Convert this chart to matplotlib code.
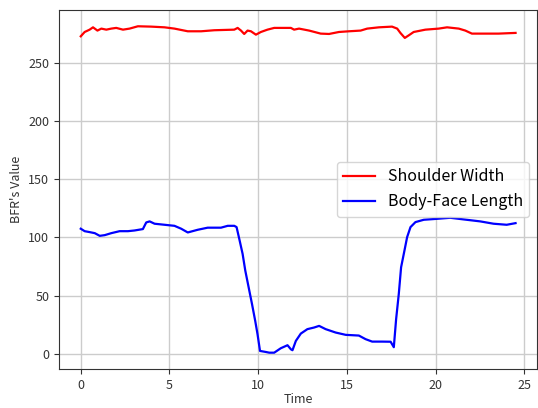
import matplotlib
matplotlib.use("Agg")
import matplotlib.pyplot as plt

plt.rcParams['font.family'] = ['Noto Sans CJK KR', 'DejaVu Sans']

# ---- Shoulder Width (red) ----
t_shoulder = [0.0, 0.22, 0.5, 0.69, 0.94, 1.16, 1.44, 1.72, 2.0, 2.38, 2.75, 3.22,
              3.97, 4.72, 5.28, 6.03, 6.78, 7.53, 8.65, 8.84, 9.03, 9.21, 9.4, 9.59,
              9.87, 10.15, 10.52, 10.9, 11.84, 12.02, 12.3, 12.87, 13.52, 13.99,
              14.55, 15.11, 15.77, 16.14, 16.8, 17.54, 17.83, 18.01, 18.26, 18.48,
              18.76, 19.42, 20.17, 20.64, 21.3, 21.67, 22.04, 22.79, 23.54, 24.5]
shoulder = [272.7, 276.4, 278.4, 280.4, 277.6, 279.3, 278.4, 279.3, 279.9, 278.4,
            279.3, 281.3, 281.0, 280.4, 279.3, 277.0, 277.0, 277.9, 278.4, 279.9,
            277.6, 274.7, 277.6, 277.0, 274.1, 276.4, 278.4, 279.9, 279.9, 278.4,
            279.3, 277.6, 275.0, 274.7, 276.4, 277.0, 277.6, 279.3, 280.4, 281.0,
            279.3, 275.6, 271.3, 273.5, 276.4, 278.4, 279.3, 280.4, 279.3, 277.6,
            275.0, 275.0, 275.0, 275.6]

# ---- Body-Face Length (blue) ----
t_body = [0.0, 0.22, 0.5, 0.79, 1.07, 1.35, 1.72, 2.19, 2.66, 3.03, 3.5, 3.69, 3.88,
          4.16, 4.72, 5.28, 5.66, 6.03, 6.59, 7.15, 7.9, 8.28, 8.65, 8.78, 8.93,
          9.12, 9.27, 9.46, 9.65, 9.83, 9.96, 10.1, 10.43, 10.62, 10.9, 11.27,
          11.65, 11.84, 11.93, 12.12, 12.4, 12.77, 13.15, 13.43, 13.8, 14.36,
          14.93, 15.67, 16.05, 16.42, 16.98, 17.46, 17.64, 17.77, 17.92, 18.05,
          18.24, 18.39, 18.58, 18.86, 19.33, 20.07, 20.82, 21.57, 22.51, 23.26,
          24.0, 24.5]
body = [107.5, 105.4, 104.6, 103.7, 101.4, 102.0, 103.7, 105.4, 105.4, 106.0, 107.2,
        112.9, 113.8, 111.8, 110.9, 110.0, 107.5, 104.3, 106.6, 108.4, 108.4, 110.0,
        110.0, 108.9, 98.9, 85.9, 71.6, 57.2, 42.8, 28.4, 17.0, 2.6, 1.7, 1.1, 1.1,
        4.9, 7.5, 4.0, 3.2, 11.2, 17.5, 21.3, 22.7, 24.1, 21.3, 18.4, 16.4, 15.8,
        12.7, 10.6, 10.6, 10.5, 5.8, 29.9, 51.5, 74.4, 88.8, 100.3, 108.9, 113.2,
        115.2, 116.0, 116.9, 115.5, 113.8, 111.8, 110.9, 112.3]

fig = plt.figure(figsize=(5.38, 4.08), dpi=100)
ax = fig.add_axes([0.1097, 0.0956, 0.889, 0.88])

ax.plot(t_shoulder, shoulder, color='red', lw=1.6, label='Shoulder Width')
ax.plot(t_body, body, color='blue', lw=1.6, label='Body-Face Length')

ax.set_xticks([0, 5, 10, 15, 20, 25])
ax.set_yticks([0, 50, 100, 150, 200, 250])
ax.tick_params(labelsize=9, colors='#333333')
ax.grid(True, color='#cccccc', lw=1)
ax.set_axisbelow(True)
for s in ax.spines.values():
    s.set_color('#333333')
ax.set_xlabel('Time', fontsize=9, color='#333333', labelpad=1)
ax.set_ylabel("BFR's Value", fontsize=9, color='#333333')
ax.legend(loc='center right', fontsize=11.5)

fig.savefig('out.png', dpi=100)
